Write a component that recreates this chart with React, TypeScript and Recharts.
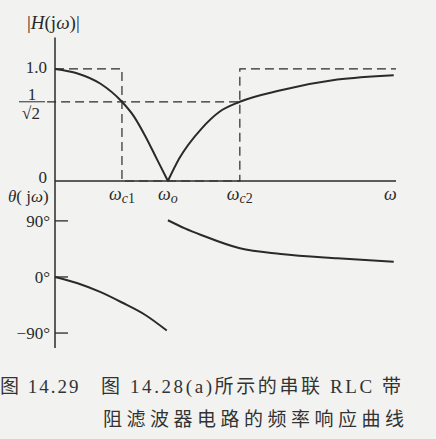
import { LineChart, Line, XAxis, YAxis, ReferenceLine } from 'recharts';

// frequency (normalised to ωo = 1) and read-off values
const omegaLeft = [0, 0.2, 0.4, 0.593, 0.7, 0.8, 0.9, 1.0];
const magLeft = [1.0, 0.96, 0.87, 0.707, 0.575, 0.4, 0.2, 0];
const omegaRight = [1.0, 1.1, 1.3, 1.46, 1.637, 2.0, 2.5, 3.0];
const magRight = [0, 0.2, 0.47, 0.62, 0.707, 0.81, 0.905, 0.945];

const phaseOmegaLeft = [0, 0.2, 0.4, 0.593, 0.8, 0.99];
const phaseLeft = [0, -10, -24, -41, -61, -86];
const phaseOmegaRight = [1.0, 1.15, 1.3, 1.637, 2.0, 2.5, 3.0];
const phaseRight = [91, 78, 67, 46, 37, 30, 24.5];

// ideal band-stop outline
const idealOmega = [0, 0.593, 0.593, 1.637, 1.637, 3.02];
const idealMag = [1.0, 1.0, 0, 0, 1.0, 1.0];

const xTicks = [0.593, 1.0, 1.637, 2.97];
const xTickSubs = ['c1', 'o', 'c2', ''];
const magTicks = [0, 0.7071, 1.0];
const phaseTicks = [-90, 0, 90];
const phaseTickLabels = ['−90°', '0°', '90°'];

const toData = (xs: number[], ys: number[]) => xs.map((w, i) => ({ w, v: ys[i] }));

const ink = '#2a2a2a';
const serif = '"Liberation Serif", "DejaVu Serif", serif';
const caption = '"Liberation Serif", "Noto Sans CJK SC", serif';

const OmegaTick = (props: any) => {
  const { x, y, payload } = props;
  const sub = xTickSubs[xTicks.indexOf(payload.value)] || '';
  const letter = sub.replace(/[0-9]/g, '');
  const num = sub.replace(/[a-z]/g, '');
  return (
    <text x={x} y={y + 11} textAnchor="middle" fontFamily={serif} fontSize={18} fontStyle="italic" fill={ink}>
      ω
      {letter && <tspan fontSize={14} dy={3}>{letter}</tspan>}
      {num && <tspan fontSize={14} fontStyle="normal">{num}</tspan>}
    </text>
  );
};

const MagTick = (props: any) => {
  const { y, payload } = props;
  const v = payload.value;
  if (v > 0.5 && v < 0.9) {
    return (
      <g fontFamily={serif} fill={ink}>
        <text x={32} y={y - 2} textAnchor="middle" fontSize={17}>1</text>
        <line x1={19} x2={45} y1={y} y2={y} stroke={ink} strokeWidth={1} />
        <text x={31} y={y + 17} textAnchor="middle" fontSize={17}>√2</text>
      </g>
    );
  }
  return (
    <text x={47} y={y + (v === 0 ? 2 : 4)} textAnchor="end" fontFamily={serif} fontSize={17} fill={ink}>
      {v === 0 ? '0' : v.toFixed(1)}
    </text>
  );
};

const PhaseTick = (props: any) => {
  const { y, payload } = props;
  const label = phaseTickLabels[phaseTicks.indexOf(payload.value)];
  return (
    <g>
      <line x1={55} x2={68} y1={y} y2={y} stroke={ink} strokeWidth={1.3} />
      <text x={50} y={y + 6} textAnchor="end" fontFamily={serif} fontSize={17} fill={ink}>{label}</text>
    </g>
  );
};

export default function App() {
  return (
    <div style={{ position: 'absolute', left: 0, top: 0, width: 436, height: 439, background: '#f2f3f1', overflow: 'hidden' }}>
      <div style={{ position: 'absolute', left: 0, top: 181 }}>
        <LineChart width={436} height={167} margin={{ top: 0, right: 40, left: 0, bottom: 0 }}>
          <XAxis dataKey="w" type="number" domain={[0, 3.02]} hide height={0} />
          <YAxis
            type="number"
            domain={[-114, 154]}
            ticks={phaseTicks}
            width={55}
            tickLine={false}
            axisLine={{ stroke: ink, strokeWidth: 1.5 }}
            tick={<PhaseTick />}
          />
          <Line data={toData(phaseOmegaLeft, phaseLeft)} dataKey="v" type="monotone" stroke={ink} strokeWidth={2} dot={false} isAnimationActive={false} />
          <Line data={toData(phaseOmegaRight, phaseRight)} dataKey="v" type="monotone" stroke={ink} strokeWidth={2} dot={false} isAnimationActive={false} />
        </LineChart>
      </div>
      <div style={{ position: 'absolute', left: 0, top: 0 }}>
        <LineChart width={436} height={217} margin={{ top: 37.6, right: 40, left: 0, bottom: 0 }}>
          <XAxis
            dataKey="w"
            type="number"
            domain={[0, 3.02]}
            ticks={xTicks}
            height={36}
            tickLine={false}
            axisLine={{ stroke: ink, strokeWidth: 1.5 }}
            tick={<OmegaTick />}
          />
          <YAxis
            type="number"
            domain={[0, 1.28]}
            ticks={magTicks}
            width={55}
            tickLine={false}
            axisLine={{ stroke: ink, strokeWidth: 1.5 }}
            tick={<MagTick />}
          />
          <ReferenceLine
            segment={[{ x: -0.07, y: 0.7071 }, { x: 1.637, y: 0.7071 }]}
            ifOverflow="visible"
            stroke={ink}
            strokeWidth={1.2}
            strokeDasharray="9 5"
          />
          <Line data={toData(idealOmega, idealMag)} dataKey="v" type="linear" stroke={ink} strokeWidth={1.2} strokeDasharray="9 5" dot={false} isAnimationActive={false} />
          <Line data={toData(omegaLeft, magLeft)} dataKey="v" type="monotone" stroke={ink} strokeWidth={2} dot={false} isAnimationActive={false} />
          <Line data={toData(omegaRight, magRight)} dataKey="v" type="monotone" stroke={ink} strokeWidth={2} dot={false} isAnimationActive={false} />
        </LineChart>
      </div>
      <div style={{ position: 'absolute', left: 27, top: 12, fontFamily: serif, fontSize: 19, color: ink }}>
        |<i>H</i>(j<i>ω</i>)|
      </div>
      <div style={{ position: 'absolute', left: 8, top: 187, fontFamily: serif, fontSize: 17, color: ink }}>
        <i>θ</i>( j<i>ω</i>)
      </div>
      <div style={{ position: 'absolute', left: 0, top: 371, fontFamily: caption, fontSize: 19, color: '#333', whiteSpace: 'nowrap', letterSpacing: 2 }}>
        图 14.29
      </div>
      <div style={{ position: 'absolute', left: 101, top: 371, fontFamily: caption, fontSize: 19, color: '#333', whiteSpace: 'nowrap', letterSpacing: 2.6 }}>
        图 14.28(a)所示的串联 RLC 带
      </div>
      <div style={{ position: 'absolute', left: 103, top: 404, fontFamily: caption, fontSize: 19, color: '#333', whiteSpace: 'nowrap', letterSpacing: 4.5 }}>
        阻滤波器电路的频率响应曲线
      </div>
    </div>
  );
}
